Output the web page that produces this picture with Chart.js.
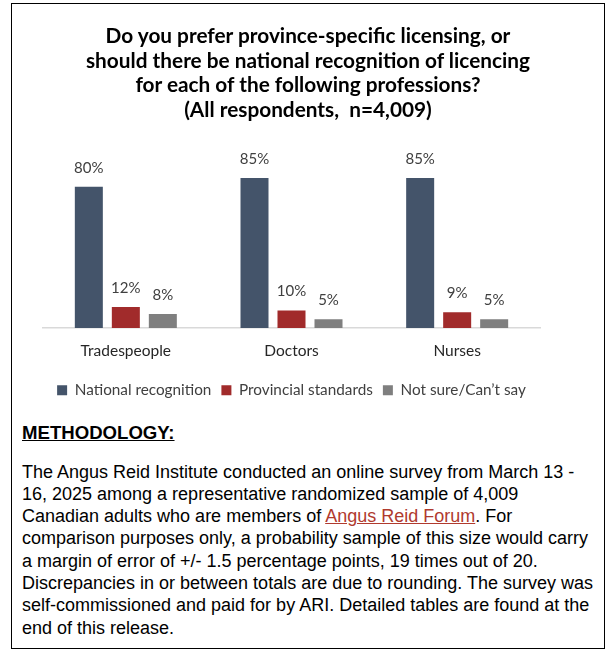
<!DOCTYPE html>
<html lang="en">
<head>
    <meta charset="UTF-8">
    <title>Province-specific vs national licensing</title>
    <script src="https://cdn.jsdelivr.net/npm/chart.js@4.4.0/dist/chart.umd.min.js"></script>
    <style>
        body { margin: 0; background: #fff; }
        .frame {
            position: absolute; left: 11px; top: 3px;
            width: 592px; height: 644px;
            border: 1.5px solid #000;
        }
        .title {
            position: absolute; left: 0; top: 19px; width: 592px;
            text-align: center; font-family: Lato, sans-serif;
            font-weight: bold; font-size: 20.8px; line-height: 24.7px; color: #000;
        }
        .chart-box { position: absolute; left: 0; top: 0; width: 592px; height: 408px; }
        .method {
            position: absolute; left: 10px; top: 417.5px; width: 580px;
            font-family: "Liberation Sans", Arial, sans-serif; color: #000;
            white-space: nowrap;
        }
        .method h2 {
            margin: 0 0 17px 0; font-size: 18.6px; line-height: 22px; font-weight: bold;
            text-decoration: underline;
        }
        .method p { margin: 0; font-size: 18px; line-height: 22.3px; }
        .method a { color: #b03a2e; text-decoration: underline; }
    </style>
</head>
<body>
    <div class="frame">
        <div class="chart-box"><canvas id="licChart"></canvas></div>
        <div class="title">
            Do you prefer province-specific licensing, or<br>
            should there be national recognition of licencing<br>
            for each of the following professions?<br>
            (All respondents,&nbsp; n=4,009)
        </div>
        <div class="method">
            <h2>METHODOLOGY:</h2>
            <p>The Angus Reid Institute conducted an online survey from March 13 -<br>
            16, 2025 among a representative randomized sample of 4,009<br>
            Canadian adults who are members of <a href="#">Angus Reid Forum</a>. For<br>
            comparison purposes only, a probability sample of this size would carry<br>
            a margin of error of +/- 1.5 percentage points, 19 times out of 20.<br>
            Discrepancies in or between totals are due to rounding. The survey was<br>
            self-commissioned and paid for by ARI. Detailed tables are found at the<br>
            end of this release.</p>
        </div>
    </div>

    <script>
        const categories = ['Tradespeople', 'Doctors', 'Nurses'];
        const seriesNames = ['National recognition', 'Provincial standards', 'Not sure/Can\u2019t say'];
        const nationalValues = [80, 85, 85];
        const provincialValues = [12, 10, 9];
        const notSureValues = [8, 5, 5];
        const seriesColors = ['#44546a', '#a12b2b', '#7f7f7f'];

        // draws the % labels above each bar
        const barLabels = {
            id: 'barLabels',
            afterDatasetsDraw(chart) {
                const ctx = chart.ctx;
                ctx.save();
                ctx.font = '15px Lato, sans-serif';
                ctx.fillStyle = '#404040';
                ctx.textAlign = 'center';
                ctx.textBaseline = 'middle';
                chart.data.datasets.forEach((ds, i) => {
                    chart.getDatasetMeta(i).data.forEach((bar, j) => {
                        ctx.fillText(ds.data[j] + '%', bar.x, bar.y - 19);
                    });
                });
                ctx.restore();
            }
        };

        const allValues = [nationalValues, provincialValues, notSureValues];

        new Chart(document.getElementById('licChart'), {
            type: 'bar',
            data: {
                labels: categories,
                datasets: seriesNames.map((name, i) => ({
                    label: name,
                    data: allValues[i],
                    backgroundColor: seriesColors[i],
                    categoryPercentage: 0.67,
                    barPercentage: 0.757
                }))
            },
            plugins: [barLabels],
            options: {
                responsive: true,
                maintainAspectRatio: false,
                animation: false,
                layout: { padding: { top: 147.5, left: 31, right: 64, bottom: 4 } },
                plugins: {
                    title: { display: false },
                    legend: {
                        position: 'bottom',
                        labels: {
                            boxWidth: 10, boxHeight: 10, padding: 10,
                            color: '#404040',
                            font: { family: 'Lato, sans-serif', size: 15.3 }
                        }
                    },
                    tooltip: { enabled: false }
                },
                scales: {
                    x: {
                        grid: { display: false },
                        border: { display: true, color: '#d9d9d9', width: 1.5 },
                        ticks: { color: '#262626', padding: 6, font: { family: 'Lato, sans-serif', size: 15.5 } },
                        // extra room between the category labels and the legend
                        afterFit: scale => { scale.height += 6; }
                    },
                    y: { display: false, min: 0, max: 100 }
                }
            }
        });
    </script>
</body>
</html>
